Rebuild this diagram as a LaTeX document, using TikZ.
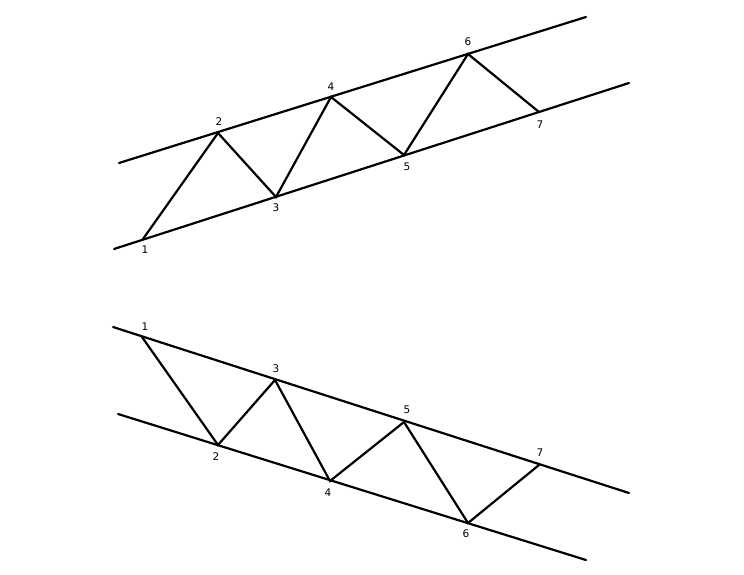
\documentclass[tikz,border=0pt]{standalone}
\usepackage{fontspec}
\setmainfont{DejaVu Sans}
\begin{document}
\begin{tikzpicture}[x=1pt,y=-1pt,
  ln/.style={line width=2.2pt,line cap=round,line join=miter},
  lbl/.style={font=\fontsize{10.5}{12}\selectfont,inner sep=0pt}]
\useasboundingbox (0,0) rectangle (744,575);
% ---------- top channel ----------
\coordinate (tua) at (119,163);
\coordinate (tub) at (586,17);
\coordinate (tla) at (114,249);
\coordinate (tlb) at (629,83);
\coordinate (t1) at (143,239);
\coordinate (t2) at (218,133);
\coordinate (t3) at (276,197);
\coordinate (t4) at (331,97);
\coordinate (t5) at (404,155);
\coordinate (t6) at (468,54);
\coordinate (t7) at (539,112);
\draw[ln] (tua) -- (tub);
\draw[ln] (tla) -- (tlb);
\draw[ln] (t1) -- (t2) -- (t3) -- (t4) -- (t5) -- (t6) -- (t7);
\node[lbl] (lt1) at (145,250) {1};
\node[lbl] (lt2) at (219,122) {2};
\node[lbl] (lt3) at (276,208) {3};
\node[lbl] (lt4) at (331,87) {4};
\node[lbl] (lt5) at (407,167) {5};
\node[lbl] (lt6) at (468,42) {6};
\node[lbl] (lt7) at (540,125) {7};
% ---------- bottom channel ----------
\coordinate (bua) at (113,327);
\coordinate (bub) at (629,493);
\coordinate (bla) at (118,414);
\coordinate (blb) at (586,560);
\coordinate (b1) at (142,337);
\coordinate (b2) at (218,445);
\coordinate (b3) at (275,380);
\coordinate (b4) at (330,481);
\coordinate (b5) at (404,422);
\coordinate (b6) at (468,523);
\coordinate (b7) at (539,465);
\draw[ln] (bua) -- (bub);
\draw[ln] (bla) -- (blb);
\draw[ln] (b1) -- (b2) -- (b3) -- (b4) -- (b5) -- (b6) -- (b7);
\node[lbl] (lb1) at (145,327) {1};
\node[lbl] (lb2) at (216,457) {2};
\node[lbl] (lb3) at (276,369) {3};
\node[lbl] (lb4) at (328,493) {4};
\node[lbl] (lb5) at (407,410) {5};
\node[lbl] (lb6) at (466,534) {6};
\node[lbl] (lb7) at (540,453) {7};
\end{tikzpicture}
\end{document}
